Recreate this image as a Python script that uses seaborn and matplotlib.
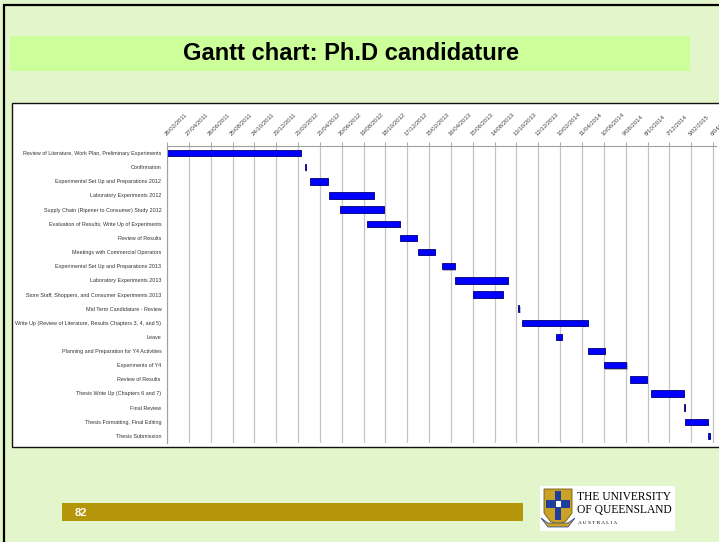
import numpy as np
import pandas as pd
import matplotlib
matplotlib.use("Agg")
import matplotlib.pyplot as plt
import matplotlib.dates as mdates
import matplotlib.patheffects as pe
from matplotlib.patches import Rectangle, Polygon
import seaborn as sns

# ---------------- data ----------------
tasks = [
    "Review of Literature, Work Plan, Preliminary Experiments",
    "Confirmation",
    "Experimental Set Up and Preparations 2012",
    "Laboratory Experiments 2012",
    "Supply Chain (Ripener to Consumer) Study 2012",
    "Evaluation of Results; Write Up of Experiments",
    "Review of Results",
    "Meetings with Commercial Operators",
    "Experimental Set Up and Preparations 2013",
    "Laboratory Experiments 2013",
    "Store Staff, Shoppers, and Consumer Experiments 2013",
    "Mid Term Candidature - Review",
    "Write Up (Review of Literature, Results Chapters 3, 4, and 5)",
    "Leave",
    "Planning and Preparation for Y4 Activities",
    "Experiments of Y4",
    "Review of Results ",
    "Thesis Write Up (Chapters 6 and 7)",
    "Final Review",
    "Thesis Formatting, Final Editing",
    "Thesis Submission",
]
start_dates = [
    "2011-02-26", "2012-03-11", "2012-03-25", "2012-05-16", "2012-06-16",
    "2012-08-29", "2012-11-27", "2013-01-15", "2013-03-23", "2013-04-28",
    "2013-06-15", "2013-10-18", "2013-10-29", "2014-01-30", "2014-04-28",
    "2014-06-11", "2014-08-21", "2014-10-17", "2015-01-15", "2015-01-20",
    "2015-03-24",
]
durations_days = [369, 3, 50, 123, 119, 90, 46, 47, 35, 145, 82, 3, 180, 17,
                  46, 61, 46, 90, 4, 63, 4]
tick_labels = [
    "26/02/2011", "27/04/2011", "26/06/2011", "25/08/2011", "24/10/2011",
    "23/12/2011", "21/02/2012", "21/04/2012", "20/06/2012", "19/08/2012",
    "18/10/2012", "17/12/2012", "15/02/2013", "16/04/2013", "15/06/2013",
    "14/08/2013", "13/10/2013", "12/12/2013", "10/02/2014", "11/04/2014",
    "10/06/2014", "9/08/2014", "8/10/2014", "7/12/2014", "5/02/2015",
    "6/04/2015",
]
axis_start = "2011-02-26"
axis_end = "2015-04-14"

title = "Gantt chart: Ph.D candidature"
page_number = "82"

# ---------------- style ----------------
sns.set_style("white")
plt.rcParams["font.family"] = ["Liberation Sans", "DejaVu Sans"]

W, H = 719, 542
fig = plt.figure(figsize=(W / 100, H / 100), dpi=100)
fig.patch.set_facecolor("#e3f6cb")


def fx(px):
    return px / W


def fy(py):
    return 1 - py / H


def add_rect(x0, y0, x1, y1, z=-5, **kw):
    fig.add_artist(Rectangle((fx(x0), fy(y1)), (x1 - x0) / W, (y1 - y0) / H,
                             transform=fig.transFigure, zorder=z, **kw))


# slide borders
fig.add_artist(plt.Line2D([fx(4), fx(4)], [0, fy(5)], transform=fig.transFigure,
                          color="black", lw=1.6, zorder=-4))
fig.add_artist(plt.Line2D([fx(4), 1], [fy(5), fy(5)], transform=fig.transFigure,
                          color="black", lw=1.6, zorder=-4))

# title band
add_rect(10, 36, 690, 71, facecolor="#ccff99", edgecolor="none")
fig.text(fx(351), fy(54), title, ha="center", va="center", fontsize=17,
         fontweight="bold", color="black")

# chart white box
add_rect(12, 103, 725, 447, facecolor="white", edgecolor="#111111", lw=1.0)

# ---------------- gantt axes ----------------
ax = fig.add_axes([fx(167), fy(443), (716 - 167) / W, (443 - 146) / H])
ax.set_zorder(5)
ax.set_facecolor("white")

df = pd.DataFrame({"task": tasks, "duration": durations_days,
                   "start": pd.to_datetime(start_dates)})

sns.barplot(data=df, x="duration", y="task", color="#0000ff", saturation=1,
            errorbar=None, width=0.45, edgecolor="#00007a", linewidth=0.6,
            ax=ax)

start_nums = mdates.date2num(df["start"].to_numpy())
for patch, s in zip(ax.patches, start_nums):
    patch.set_x(s)
    patch.set_path_effects([pe.SimplePatchShadow(offset=(0.8, -0.8),
                                                  shadow_rgbFace="#7a7a7a",
                                                  alpha=0.5),
                            pe.Normal()])

tick_nums = mdates.date2num(pd.to_datetime(tick_labels, format="%d/%m/%Y").to_numpy())
ax.set_xlim(mdates.date2num(np.datetime64(axis_start)),
            mdates.date2num(np.datetime64(axis_end)))
ax.set_xticks(tick_nums)
ax.set_xticklabels(tick_labels)
ax.xaxis.tick_top()
ax.tick_params(axis="x", which="major", length=3, width=0.6, color="#9a9a9a",
               labelsize=4.3, labelcolor="#444444", pad=4)
for lbl in ax.get_xticklabels():
    lbl.set_rotation(45)
    lbl.set_ha("left")
    lbl.set_va("bottom")
    lbl.set_rotation_mode("anchor")

ax.set_ylim(len(tasks) - 0.5, -0.5)
ax.set_yticks(np.arange(len(tasks)))
ax.set_yticklabels(tasks, fontsize=3.85, color="#333333")
ax.set_yticks(np.arange(len(tasks) + 1) - 0.5, minor=True)
ax.tick_params(axis="y", which="major", length=0, pad=4)
ax.tick_params(axis="y", which="minor", length=3, width=0.6, color="#9a9a9a")

ax.grid(axis="x", color="#c4c4c4", lw=0.9)
ax.grid(axis="y", visible=False)
ax.set_axisbelow(True)
ax.set_xlabel("")
ax.set_ylabel("")
for side in ["bottom", "right"]:
    ax.spines[side].set_visible(False)
for side in ["top", "left"]:
    ax.spines[side].set_visible(True)
    ax.spines[side].set_color("#a0a0a0")
    ax.spines[side].set_linewidth(0.8)

# ---------------- footer ----------------
add_rect(62, 503, 523, 521, facecolor="#b5950a", edgecolor="none")
fig.text(fx(75), fy(513), page_number, ha="left", va="center", fontsize=8,
         fontweight="bold", color="white")

# logo
add_rect(540, 486, 675, 531, facecolor="white", edgecolor="none")
shield = [(544, 489), (572, 489), (572, 513), (566, 521), (558, 525),
          (550, 521), (544, 513)]
fig.add_artist(Polygon([(fx(a), fy(b)) for a, b in shield], closed=True,
                       transform=fig.transFigure, facecolor="#c9a227",
                       edgecolor="#6b5a10", lw=0.6, zorder=1))
add_rect(555, 491, 561, 520, z=2, facecolor="#1f3d99", edgecolor="none")
add_rect(546, 500, 570, 508, z=2, facecolor="#1f3d99", edgecolor="none")
add_rect(555.5, 501, 560.5, 507, z=3, facecolor="white", edgecolor="none")
fig.add_artist(Polygon([(fx(a), fy(b)) for a, b in
                        [(541, 518), (548, 527), (568, 527), (575, 518),
                         (568, 523), (548, 523)]],
                       closed=True, transform=fig.transFigure,
                       facecolor="#c9a227", edgecolor="#1f3d99", lw=0.5, zorder=3))
serif = ["Liberation Serif", "DejaVu Serif"]
fig.text(fx(577), fy(497), "THE UNIVERSITY", ha="left", va="center",
         fontsize=8.3, family=serif, color="black")
fig.text(fx(577), fy(510), "OF QUEENSLAND", ha="left", va="center",
         fontsize=8.3, family=serif, color="black")
fig.text(fx(578), fy(523), "A U S T R A L I A", ha="left", va="center",
         fontsize=3.8, family=serif, color="black")

fig.savefig("out.png", dpi=100, facecolor=fig.get_facecolor())
